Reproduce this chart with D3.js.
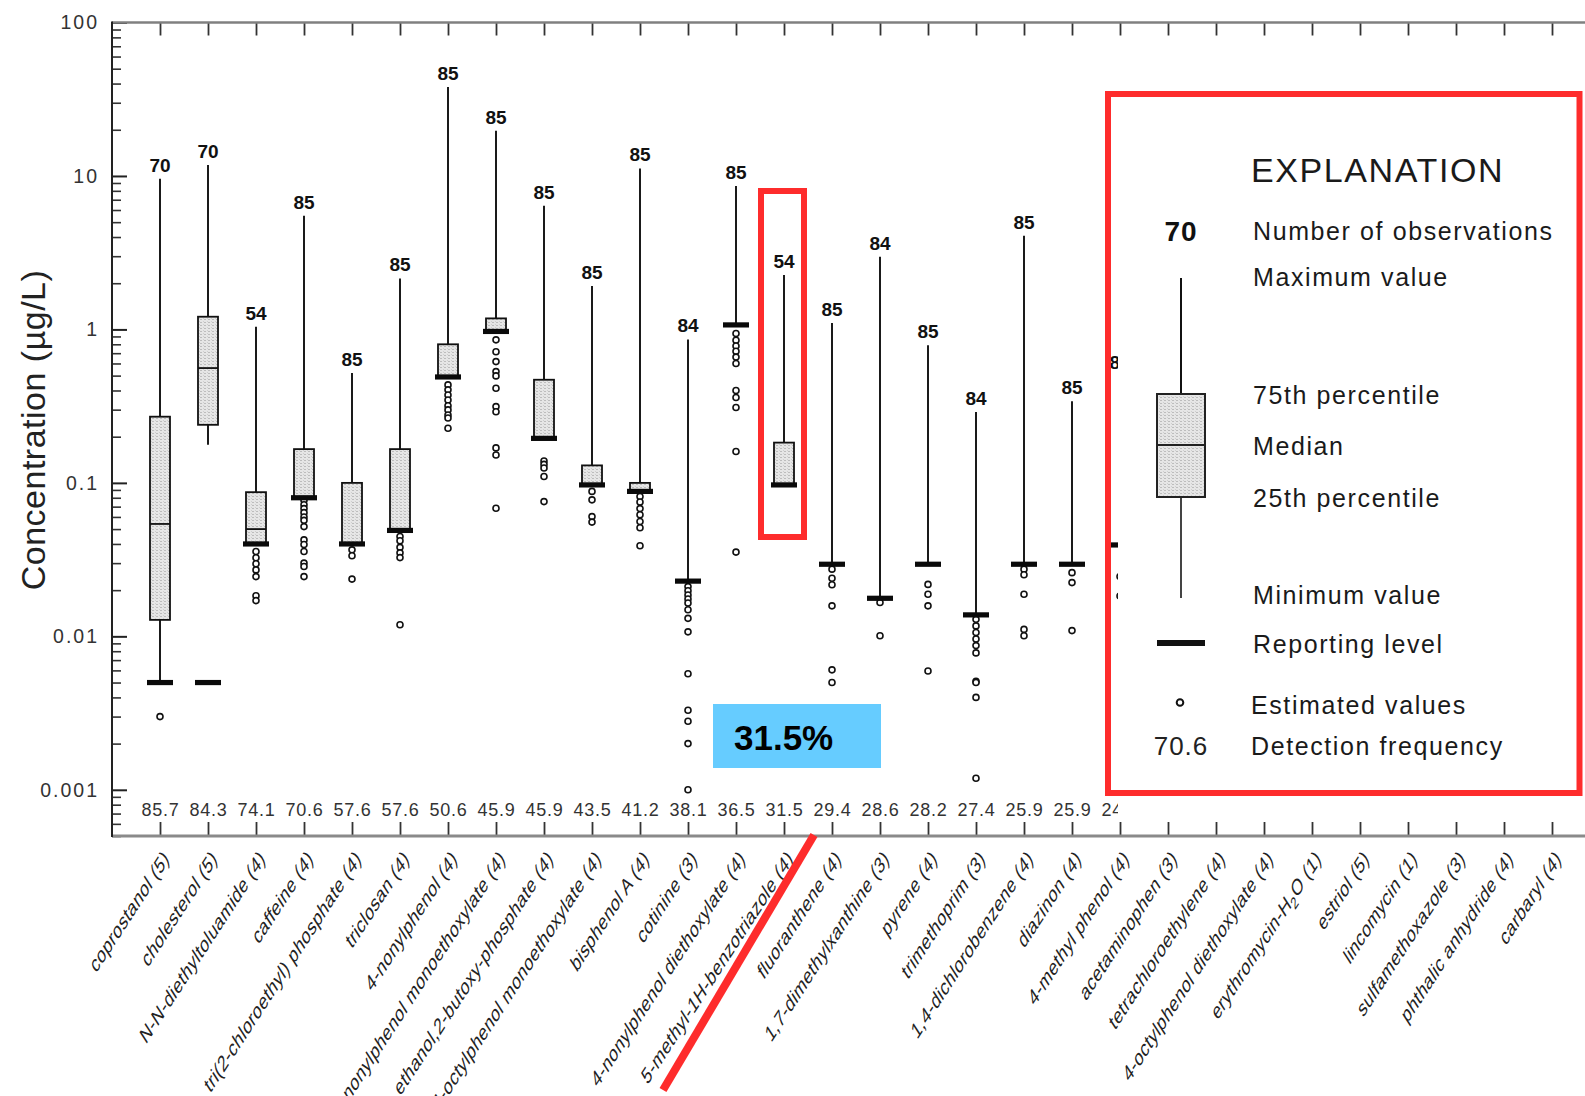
<!DOCTYPE html>
<html>
<head>
<meta charset="utf-8">
<script src="https://cdn.jsdelivr.net/npm/d3@7"></script>
<style>
  html, body { margin: 0; padding: 0; background: #fff; }
  svg { display: block; font-family: "Liberation Sans", Arial, Helvetica, sans-serif; }
</style>
</head>
<body>
<svg id="chart" width="1585" height="1096"></svg>
<script>
// ---------------- DATA ----------------
const categories = [
  "coprostanol (5)", "cholesterol (5)", "N-N-diethyltoluamide (4)", "caffeine (4)",
  "tri(2-chloroethyl) phosphate (4)", "triclosan (4)", "4-nonylphenol (4)",
  "4-nonylphenol monoethoxylate (4)", "ethanol,2-butoxy-phosphate (4)",
  "4-octylphenol monoethoxylate (4)", "bisphenol A (4)", "cotinine (3)",
  "4-nonylphenol diethoxylate (4)", "5-methyl-1H-benzotriazole (4)", "fluoranthene (4)",
  "1,7-dimethylxanthine (3)", "pyrene (4)", "trimethoprim (3)", "1,4-dichlorobenzene (4)",
  "diazinon (4)", "4-methyl phenol (4)", "acetaminophen (3)", "tetrachloroethylene (4)",
  "4-octylphenol diethoxylate (4)", "erythromycin-H2O (1)", "estriol (5)", "lincomycin (1)",
  "sulfamethoxazole (3)", "phthalic anhydride (4)", "carbaryl (4)"
];
// number of observations (label above maximum)
const nObs = [70, 70, 54, 85, 85, 85, 85, 85, 85, 85, 85, 84, 85, 54, 85, 84, 85, 84, 85, 85, 85,
  null, null, null, null, null, null, null, null, null];
// detection frequency, percent
const detectFreq = [85.7, 84.3, 74.1, 70.6, 57.6, 57.6, 50.6, 45.9, 45.9, 43.5, 41.2, 38.1, 36.5,
  31.5, 29.4, 28.6, 28.2, 27.4, 25.9, 25.9, 24.7, null, null, null, null, null, null, null, null, null];
const maxVals = [9.6, 11.8, 1.04, 5.5, 0.52, 2.15, 38, 19.7, 6.4, 1.92, 11.2, 0.86, 8.6, 2.26, 1.1,
  2.98, 0.79, 0.29, 4.07, 0.34, 0.5, null, null, null, null, null, null, null, null, null];
const p75 = [0.27, 1.21, 0.087, 0.166, 0.1, 0.166, 0.8, 1.18, 0.47, 0.13, 0.1, null, null, 0.183,
  null, null, null, null, null, null, null, null, null, null, null, null, null, null, null, null];
const medians = [0.054, 0.56, 0.05, 0.08, 0.04, 0.049, 0.49, 0.97, 0.195, 0.097, 0.088, null, null,
  0.097, null, null, null, null, null, null, null, null, null, null, null, null, null, null, null, null];
const p25 = [0.0128, 0.239, 0.04, 0.08, 0.04, 0.049, 0.49, 0.97, 0.195, 0.097, 0.088, null, null,
  0.097, null, null, null, null, null, null, null, null, null, null, null, null, null, null, null, null];
const minVals = [0.005, 0.177, 0.04, 0.08, 0.04, 0.049, 0.49, 0.97, 0.195, 0.097, 0.088, 0.0229, 1.07,
  0.097, 0.0295, 0.0177, 0.0295, 0.0138, 0.0295, 0.0295, 0.0394, null, null, null, null, null, null, null, null, null];
const reportLevels = [0.005, 0.005, 0.04, 0.08, 0.04, 0.049, 0.49, 0.97, 0.195, 0.097, 0.088, 0.0229,
  1.07, 0.097, 0.0295, 0.0177, 0.0295, 0.0138, 0.0295, 0.0295, 0.0394, null, null, null, null, null, null, null, null, null];
const estimated = [
  [0.003],
  [],
  [0.0357, 0.0325, 0.0297, 0.0271, 0.0245, 0.0184, 0.0171],
  [0.077, 0.072, 0.068, 0.064, 0.06, 0.057, 0.0519, 0.0425, 0.0397, 0.0357, 0.03, 0.0285, 0.0245],
  [0.0366, 0.0335, 0.0236],
  [0.0447, 0.042, 0.038, 0.035, 0.0326, 0.0119],
  [0.435, 0.404, 0.374, 0.347, 0.318, 0.299, 0.277, 0.265, 0.227],
  [0.855, 0.716, 0.617, 0.531, 0.498, 0.414, 0.314, 0.291, 0.169, 0.152, 0.0684],
  [0.139, 0.132, 0.125, 0.11, 0.0755],
  [0.088, 0.0775, 0.0603, 0.0555],
  [0.0815, 0.075, 0.068, 0.062, 0.056, 0.051, 0.0389],
  [0.0211, 0.0198, 0.0186, 0.0175, 0.0165, 0.0149, 0.0131, 0.0107, 0.0057, 0.0033, 0.0028, 0.002, 0.001],
  [0.94, 0.85, 0.78, 0.72, 0.66, 0.6, 0.4, 0.36, 0.31, 0.16, 0.0354],
  [],
  [0.0274, 0.0239, 0.0217, 0.0158, 0.00605, 0.005],
  [0.0166, 0.0101],
  [0.0218, 0.0188, 0.0158, 0.00595],
  [0.0129, 0.0117, 0.0106, 0.0096, 0.0087, 0.0078, 0.0051, 0.005, 0.004, 0.00119],
  [0.0274, 0.0252, 0.0188, 0.0111, 0.0101],
  [0.026, 0.0224, 0.0109],
  [0.0245, 0.0183],
  [], [], [], [], [], [], [], [], []
];
const yTickValues = [100, 10, 1, 0.1, 0.01, 0.001];
const yTickLabels = ["100", "10", "1", "0.1", "0.01", "0.001"];
const yTitle = "Concentration (\u00b5g/L)";
const highlightText = "31.5%";
const legendTitle = "EXPLANATION";
const legendItems = ["Number of observations", "Maximum value", "75th percentile", "Median",
  "25th percentile", "Minimum value", "Reporting level", "Estimated values", "Detection frequency"];
const legendSample = { n: "70", freq: "70.6" };

(function () {
// ---------------- LAYOUT ----------------
const svg = d3.select("#chart");
const pL = 112, pT = 22.5, pB = 836, pR = 1585;

const x = d3.scalePoint().domain(categories).range([160, 1552]);
const y = d3.scaleLog().domain([0.0005, 100]).range([pB, pT]);

const defs = svg.append("defs");
const pat = defs.append("pattern").attr("id", "stip").attr("width", 4).attr("height", 3)
  .attr("patternUnits", "userSpaceOnUse");
pat.append("rect").attr("width", 4).attr("height", 3).attr("fill", "#e6e6e6");
pat.append("rect").attr("x", 0).attr("y", 1).attr("width", 2).attr("height", 1).attr("fill", "#bdbdbd");
pat.append("rect").attr("x", 3).attr("y", 0).attr("width", 1).attr("height", 1).attr("fill", "#cfcfcf");

// y axis: major & minor ticks inward
const majorAxis = d3.axisLeft(y).tickValues(yTickValues)
  .tickFormat((d, i) => yTickLabels[i]).tickSizeInner(-15).tickSizeOuter(0).tickPadding(13);
const gy = svg.append("g").attr("transform", `translate(${pL},0)`).call(majorAxis);
gy.select(".domain").remove();
gy.selectAll(".tick line").attr("stroke", "#222").attr("stroke-width", 2);
gy.selectAll(".tick text").attr("font-size", 19.5).attr("fill", "#333")
  .attr("letter-spacing", "2px").attr("font-family", "Liberation Sans, Arial, sans-serif");

const minorTicks = y.ticks().filter(v => !yTickValues.some(m => Math.abs(m - v) / m < 1e-6));
const minorAxis = d3.axisLeft(y).tickValues(minorTicks).tickFormat("").tickSizeInner(-9).tickSizeOuter(0);
const gym = svg.append("g").attr("transform", `translate(${pL},0)`).call(minorAxis);
gym.select(".domain").remove();
gym.selectAll(".tick line").attr("stroke", "#333").attr("stroke-width", 1.6);

// top & bottom category ticks
const gt = svg.append("g").attr("transform", `translate(0,${pT})`)
  .call(d3.axisTop(x).tickSizeInner(-13).tickSizeOuter(0).tickFormat(""));
gt.select(".domain").remove();
gt.selectAll(".tick line").attr("stroke", "#333").attr("stroke-width", 1.8);
const gb = svg.append("g").attr("transform", `translate(0,${pB})`)
  .call(d3.axisBottom(x).tickSizeInner(-14).tickSizeOuter(0).tickFormat(""));
gb.select(".domain").remove();
gb.selectAll(".tick line").attr("stroke", "#333").attr("stroke-width", 1.8);

// frame
svg.append("line").attr("x1", pL).attr("x2", pR).attr("y1", pT).attr("y2", pT)
  .attr("stroke", "#808080").attr("stroke-width", 2.5);
svg.append("line").attr("x1", pL).attr("x2", pR).attr("y1", pB).attr("y2", pB)
  .attr("stroke", "#8a8a8a").attr("stroke-width", 3);
svg.append("line").attr("x1", pL).attr("x2", pL).attr("y1", pT - 1).attr("y2", pB + 1)
  .attr("stroke", "#222").attr("stroke-width", 2);

// y title
svg.append("text").attr("transform", `translate(45,430) rotate(-90)`)
  .attr("text-anchor", "middle").attr("font-size", 34).attr("fill", "#222")
  .attr("letter-spacing", "0.5px").text(yTitle);

// ---------------- BOXPLOTS ----------------
const plot = svg.append("g");
const boxW = 20, rlW = 26;
categories.forEach((c, i) => {
  if (maxVals[i] == null) return;
  const cx = x(c);
  const g = plot.append("g");
  g.append("line").attr("x1", cx).attr("x2", cx)
    .attr("y1", y(minVals[i])).attr("y2", y(maxVals[i]))
    .attr("stroke", "#1a1a1a").attr("stroke-width", 2);
  if (p75[i] != null) {
    g.append("rect").attr("x", cx - boxW / 2).attr("y", y(p75[i]))
      .attr("width", boxW).attr("height", Math.max(1, y(p25[i]) - y(p75[i])))
      .attr("fill", "url(#stip)").attr("stroke", "#111").attr("stroke-width", 1.8);
    g.append("line").attr("x1", cx - boxW / 2).attr("x2", cx + boxW / 2)
      .attr("y1", y(medians[i])).attr("y2", y(medians[i]))
      .attr("stroke", "#111").attr("stroke-width", 1.8);
  }
  estimated[i].forEach(v => {
    g.append("circle").attr("cx", cx).attr("cy", y(v)).attr("r", 3)
      .attr("fill", "#fff").attr("stroke", "#111").attr("stroke-width", 1.6);
  });
  g.append("rect").attr("x", cx - rlW / 2).attr("y", y(reportLevels[i]) - 2.6)
    .attr("width", rlW).attr("height", 5.2).attr("fill", "#0a0a0a");
  g.append("text").attr("x", cx).attr("y", y(maxVals[i]) - 7)
    .attr("text-anchor", "middle").attr("font-size", 19).attr("font-weight", "bold")
    .attr("fill", "#111").text(nObs[i]);
});

// detection frequency labels
categories.forEach((c, i) => {
  if (detectFreq[i] == null) return;
  svg.append("text").attr("x", x(c) + 0.5).attr("y", 816).attr("text-anchor", "middle")
    .attr("font-size", 18).attr("letter-spacing", "0.8px").attr("fill", "#333")
    .text(detectFreq[i].toFixed(1));
});

// category labels (rotated, sheared)
categories.forEach((c) => {
  const t = svg.append("text")
    .attr("transform", `translate(${x(c) + 10},860) scale(1,1.54) rotate(-45)`)
    .attr("text-anchor", "end").attr("font-size", 15).attr("fill", "#222")
    .attr("letter-spacing", "0.3px");
  if (c.indexOf("H2O") >= 0) {
    const parts = c.split("H2O");
    t.append("tspan").text(parts[0] + "H");
    t.append("tspan").attr("dy", 4).attr("font-size", 11).text("2");
    t.append("tspan").attr("dy", -4).text("O" + parts[1]);
  } else {
    t.text(c);
  }
});

// ---------------- ANNOTATIONS ----------------
svg.append("rect").attr("x", 761).attr("y", 191).attr("width", 43).attr("height", 346)
  .attr("fill", "none").attr("stroke", "#fe2c2c").attr("stroke-width", 6);
svg.append("rect").attr("x", 713).attr("y", 704).attr("width", 168).attr("height", 64)
  .attr("fill", "#66ccff");
svg.append("text").attr("x", 734).attr("y", 750).attr("font-size", 35).attr("font-weight", "bold")
  .attr("fill", "#000").text(highlightText);
svg.append("line").attr("x1", 814).attr("y1", 835).attr("x2", 663).attr("y2", 1090)
  .attr("stroke", "#fe2c2c").attr("stroke-width", 8);

// ---------------- LEGEND ----------------
svg.append("rect").attr("x", 1118).attr("y", 40).attr("width", pR - 1118).attr("height", 779)
  .attr("fill", "#fff");
svg.append("rect").attr("x", 1108).attr("y", 94).attr("width", 471.5).attr("height", 699)
  .attr("fill", "none").attr("stroke", "#fe2c2c").attr("stroke-width", 6);

const lg = svg.append("g");
const lx = 1181, tx = 1253;
lg.append("text").attr("x", 1251).attr("y", 182).attr("font-size", 34).attr("letter-spacing", "1.6px")
  .attr("fill", "#1a1a1a").text(legendTitle);
lg.append("text").attr("x", lx).attr("y", 241).attr("text-anchor", "middle").attr("font-size", 28)
  .attr("font-weight", "bold").attr("letter-spacing", "1px").attr("fill", "#111").text(legendSample.n);
lg.append("line").attr("x1", lx).attr("x2", lx).attr("y1", 278).attr("y2", 394)
  .attr("stroke", "#111").attr("stroke-width", 2);
lg.append("line").attr("x1", lx).attr("x2", lx).attr("y1", 497).attr("y2", 598)
  .attr("stroke", "#444").attr("stroke-width", 2);
lg.append("rect").attr("x", 1157).attr("y", 394).attr("width", 48).attr("height", 103)
  .attr("fill", "url(#stip)").attr("stroke", "#222").attr("stroke-width", 2);
lg.append("line").attr("x1", 1157).attr("x2", 1205).attr("y1", 445).attr("y2", 445)
  .attr("stroke", "#222").attr("stroke-width", 2);
lg.append("rect").attr("x", 1157).attr("y", 640).attr("width", 48).attr("height", 6).attr("fill", "#111");
lg.append("circle").attr("cx", lx - 1).attr("cy", 702.5).attr("r", 3.3).attr("fill", "#fff")
  .attr("stroke", "#111").attr("stroke-width", 2);
lg.append("text").attr("x", lx).attr("y", 755).attr("text-anchor", "middle").attr("font-size", 26)
  .attr("letter-spacing", "1px").attr("fill", "#222").text(legendSample.freq);
const itemY = [240, 286, 404, 455, 507, 604, 653, 713.5, 755];
legendItems.forEach((t, i) => {
  lg.append("text").attr("x", i >= 7 ? tx - 2 : tx).attr("y", itemY[i]).attr("font-size", 25)
    .attr("letter-spacing", "1.6px").attr("fill", "#1a1a1a").text(t);
});
})();
</script>
</body>
</html>
